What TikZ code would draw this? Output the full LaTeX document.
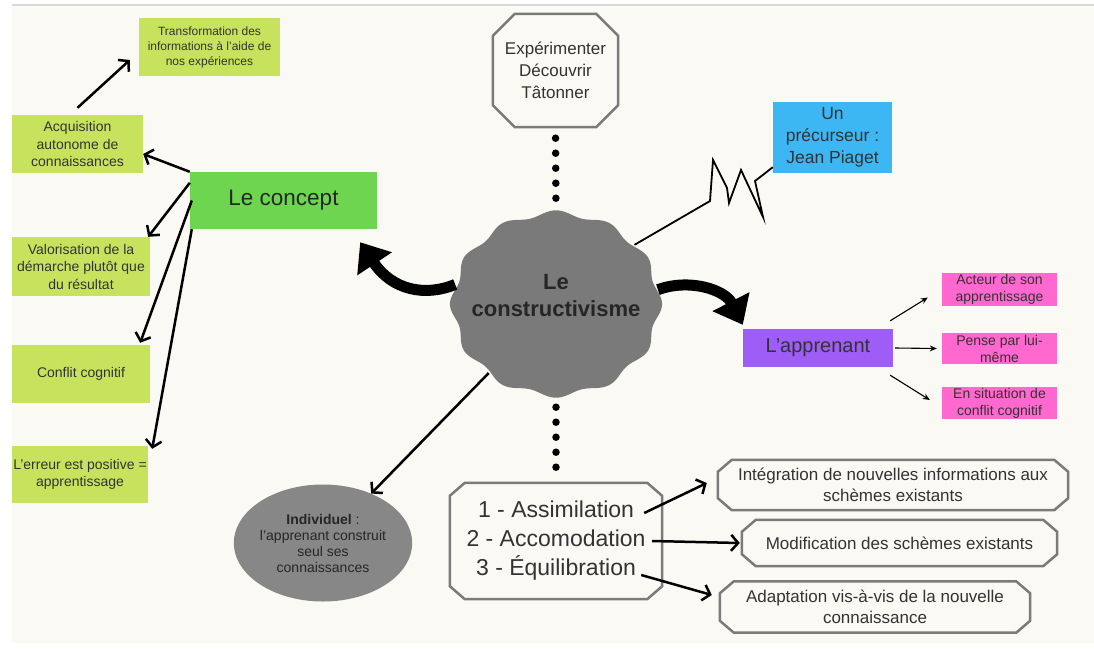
\documentclass[tikz,border=0pt]{standalone}
\usepackage{fontspec}
\setmainfont{Liberation Sans}
\usepackage{xcolor}
\usepackage{tikz}
\usetikzlibrary{arrows.meta,shapes.geometric}
\definecolor{fond}{HTML}{FBF9F4}
\definecolor{citron}{HTML}{C7E35E}
\definecolor{vert}{HTML}{6DD550}
\definecolor{ciel}{HTML}{3DB7F4}
\definecolor{violet}{HTML}{9D5DF6}
\definecolor{rose}{HTML}{FF68CF}
\definecolor{gris}{HTML}{7A7A7A}
\definecolor{encre}{HTML}{333333}
\tikzset{
  boite/.style = {rectangle, inner sep=0pt, align=center, text=encre},
  boite_c/.style = {boite, fill=citron, font=\fontsize{14}{17.5}\selectfont},% boite citron
  boite_r/.style = {boite, fill=rose, minimum width=115pt,
    font=\fontsize{14}{17}\selectfont},% boite rose
  octo/.style = {boite},% le contour est trace par \octogone
  octo_d/.style = {octo, font=\fontsize{17}{21}\selectfont},% octogone de droite
  octo_trait/.style = {draw=gris, line width=2.5pt, line join=miter},
  fl/.style = {line width=2.5pt, -{Straight Barb[length=7pt,width=16pt]}},% fleche noire
  fl_fine/.style = {line width=1.1pt, -{Stealth[length=7pt,width=6pt]}},
  fl_grosse/.style = {line width=11pt, -{Triangle[length=26pt,width=40pt]}},
  points/.style = {line width=7.5pt, line cap=round, dash pattern=on 0pt off 15pt}
}
% contour octogonal d'un noeud : #1 = nom, #2 = coin coupe en x, #3 = en y
\newcommand{\octogone}[3]{%
  \draw[octo_trait] ([xshift=#2]#1.north west) -- ([xshift=-#2]#1.north east)
    -- ([yshift=-#3]#1.north east) -- ([yshift=#3]#1.south east)
    -- ([xshift=-#2]#1.south east) -- ([xshift=#2]#1.south west)
    -- ([yshift=#3]#1.south west) -- ([yshift=-#3]#1.north west) -- cycle;}
\begin{document}
\begin{tikzpicture}[x=1pt,y=-1pt]
\useasboundingbox (0,0) rectangle (1094,648);
\fill[fond] (12,5) rectangle (1094,643);
\draw[black!15, line width=2pt] (12,5) -- (1094,5);
% le nuage central
\fill[gris] plot[domain=0:357, samples=120, smooth cycle]
  ({556+103*(1+.03*cos(12*\x))*cos(\x)}, {304+91*(1+.03*cos(12*\x))*sin(\x)});
\node[ellipse, minimum width=206pt, minimum height=182pt, inner sep=0pt,
  label={[yshift=8pt, align=center, text=black!85,
  font=\fontsize{22}{27}\selectfont\bfseries]center:Le\\constructivisme}] (core) at (556,304) {};

% le concept
\node[boite, fill=vert, minimum width=187pt, minimum height=57pt,
  font=\fontsize{22.5}{27}\selectfont, text=black!85] (concept) at (283.5,200.5) {Le concept};
\node[boite_c, minimum width=141pt, minimum height=58pt,
  font=\fontsize{12}{15}\selectfont] (trans) at (209.5,47)
  {Transformation des\\informations à l'aide de\\nos expériences};
\node[boite_c, minimum width=131pt, minimum height=58pt] (acq) at (77.5,144)
  {Acquisition\\autonome de\\connaissances};
\node[boite_c, minimum width=138pt, minimum height=59pt] (valor) at (81,266.5)
  {Valorisation de la\\démarche plutôt que\\du résultat};
\node[boite_c, minimum width=138pt, minimum height=58pt] (conflit) at (81,374) {Conflit cognitif};
\node[boite_c, minimum width=136pt, minimum height=57pt] (erreur) at (80,474.5)
  {L'erreur est positive =\\apprentissage};

% en haut
\node[octo, minimum width=125pt, minimum height=113pt,
  font=\fontsize{17}{22}\selectfont] (essai) at (555.5,70.5) {Expérimenter\\Découvrir\\Tâtonner};
\octogone{essai}{22pt}{22pt}
\node[boite, fill=ciel, minimum width=119pt, minimum height=71pt,
  font=\fontsize{17.5}{22}\selectfont] (piaget) at (832.5,137.5) {Un\\précurseur :\\Jean Piaget};

% l'apprenant
\node[boite, fill=violet, minimum width=150pt, minimum height=38pt,
  font=\fontsize{20}{24}\selectfont] (appr) at (818,348) {L'apprenant};
\node[boite_r, minimum height=33pt] (acteur) at (999.5,289.5) {Acteur de son\\apprentissage};
\node[boite_r, minimum height=31pt] (pense) at (999.5,348.5) {Pense par lui-\\même};
\node[boite_r, minimum height=32pt] (situ) at (999.5,403) {En situation de\\conflit cognitif};

% en bas
\node[ellipse, fill=gris!90!white, minimum width=130pt, minimum height=117pt, inner sep=0pt,
  align=center, text=black!85, font=\fontsize{14}{16}\selectfont] (indiv) at (323,543)
  {\textbf{Individuel} :\\l'apprenant construit\\seul ses\\connaissances};
\node[octo, minimum width=212pt, minimum height=116pt,
  font=\fontsize{23}{29}\selectfont] (etapes) at (556,541)
  {1 - Assimilation\\2 - Accomodation\\3 - Équilibration};
\octogone{etapes}{15pt}{13pt}
\node[octo_d, minimum width=350pt, minimum height=50pt] (integ) at (893,485)
  {Intégration de nouvelles informations aux\\schèmes existants};
\octogone{integ}{14pt}{12pt}
\node[octo_d, minimum width=315pt, minimum height=46pt] (modif) at (899.5,543)
  {Modification des schèmes existants};
\octogone{modif}{14pt}{12pt}
\node[octo_d, minimum width=310pt, minimum height=51pt] (adapt) at (875,607)
  {Adaptation vis-à-vis de la nouvelle\\connaissance};
\octogone{adapt}{14pt}{12pt}

% liens
\draw[points, shorten <=11pt, shorten >=14.5pt] (essai.south) -- (core.north);
\draw[points, shorten <=12pt, shorten >=15.5pt] (core.south) -- (etapes.north);
\draw[line width=1.8pt] (core.37) -- (710,201) -- (713,160) -- (727,188) -- (729,203)
  -- (741,170) -- (763,217) -- (755,181) -- ([yshift=6pt]piaget.south west);
\draw[fl_grosse] (core.169) .. controls (425,297) and (392,290) .. ([xshift=-17pt,yshift=-13pt]concept.south east);
\draw[fl_grosse] (core.8) .. controls (690,278) and (725,290) .. ([yshift=4pt]appr.north west);
\draw[fl] (core) -- (indiv);

\draw[fl] (concept.north west) -- ([yshift=-10pt]acq.east);
\draw[fl] ([yshift=-11pt]concept.north west) -- ([xshift=-2pt]valor.north east);
\draw[fl] ([xshift=2pt]concept.west) -- ([xshift=-10pt,yshift=2pt]conflit.north east);
\draw[fl] ([xshift=2pt]concept.south west) -- ([xshift=4pt,yshift=-3pt]erreur.north east);
\draw[fl] ([yshift=7pt]acq.north) -- ([xshift=-9pt,yshift=-13pt]trans.west);

\draw[fl_fine] ([xshift=-3pt,yshift=8pt]appr.north east) -- ([xshift=-14pt,yshift=-8pt]acteur.west);
\draw[fl_fine] ([xshift=2pt]appr.east) -- ([xshift=-5pt]pense.west);
\draw[fl_fine] ([xshift=-3pt,yshift=-8pt]appr.south east) -- ([xshift=-12pt,yshift=3pt]situ.west);

\draw[fl] ([xshift=-18pt,yshift=28pt]etapes.east) -- ([xshift=-11pt,yshift=2pt]integ.west);
\draw[fl] ([xshift=-10pt]etapes.east) -- ([xshift=-2pt]modif.west);
\draw[fl] ([xshift=-21pt,yshift=-34pt]etapes.east) -- ([xshift=-8pt,yshift=12pt]adapt.west);
\end{tikzpicture}
\end{document}
